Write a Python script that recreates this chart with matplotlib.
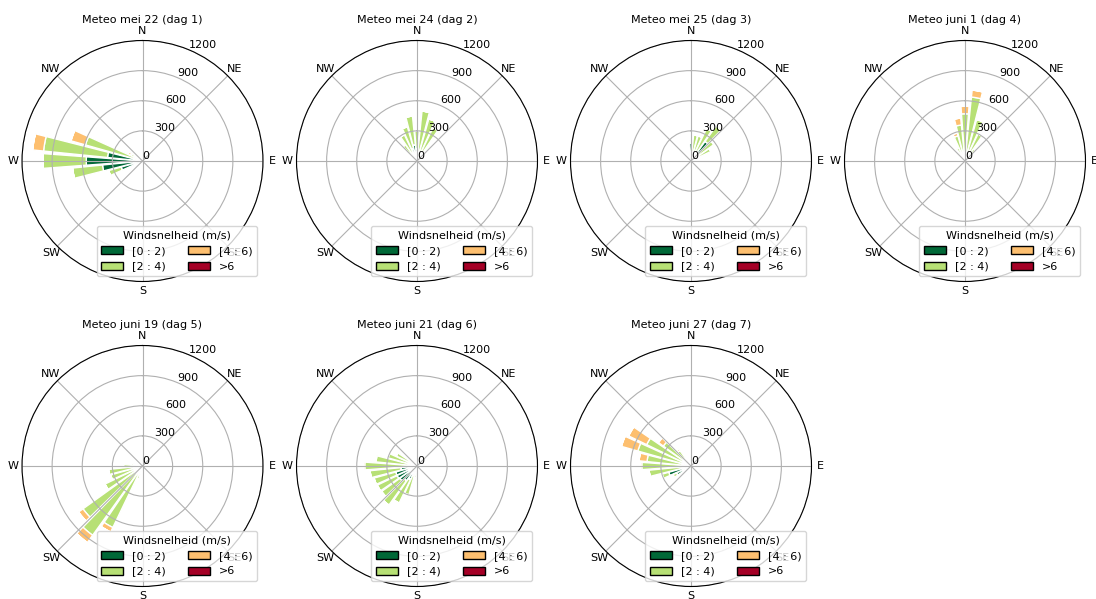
import numpy as np
import matplotlib
matplotlib.use("Agg")
import matplotlib.pyplot as plt
from matplotlib.patches import Patch

# ---- data -------------------------------------------------------------
titles = ["Meteo mei 22 (dag 1)", "Meteo mei 24 (dag 2)", "Meteo mei 25 (dag 3)",
          "Meteo juni 1 (dag 4)", "Meteo juni 19 (dag 5)", "Meteo juni 21 (dag 6)",
          "Meteo juni 27 (dag 7)"]
speed_labels = ["[0 : 2)", "[2 : 4)", "[4 : 6)", ">6"]
compass = ["N", "NE", "E", "SE", "S", "SW", "W", "NW"]
r_ticks = [0, 300, 600, 900, 1200]

# directions (degrees) and counts per speed class for each day
dag1_dir = [230, 240, 250, 260, 270, 280, 290, 300]
dag1_s02 = [20, 60, 220, 400, 560, 350, 80, 20]
dag1_s24 = [10, 20, 130, 300, 430, 640, 510, 110]
dag1_s46 = [0, 0, 0, 0, 0, 110, 150, 30]
dag1_s6 = [0, 0, 0, 0, 0, 0, 0, 0]

dag2_dir = [240, 250, 320, 330, 340, 350, 0, 10, 20, 30, 40]
dag2_s02 = [60, 40, 40, 80, 130, 160, 120, 90, 50, 20, 10]
dag2_s24 = [40, 20, 160, 210, 224, 290, 180, 410, 385, 350, 110]
dag2_s46 = [0, 0, 0, 0, 0, 0, 0, 0, 0, 0, 0]
dag2_s6 = [0, 0, 0, 0, 0, 0, 0, 0, 0, 0, 0]

dag3_dir = [350, 0, 10, 20, 30, 40, 50, 60, 70]
dag3_s02 = [40, 180, 90, 60, 80, 240, 100, 60, 30]
dag3_s24 = [20, 20, 170, 200, 280, 190, 180, 160, 60]
dag3_s46 = [0, 0, 0, 0, 0, 0, 0, 0, 0]
dag3_s6 = [0, 0, 0, 0, 0, 0, 0, 0, 0]

dag4_dir = [320, 330, 340, 350, 0, 10, 20, 30, 40]
dag4_s02 = [10, 20, 30, 30, 30, 40, 30, 20, 10]
dag4_s24 = [60, 130, 230, 330, 440, 600, 400, 280, 140]
dag4_s46 = [0, 10, 30, 70, 75, 70, 0, 0, 0]
dag4_s6 = [0, 0, 0, 0, 0, 0, 0, 0, 0]

dag5_dir = [190, 200, 210, 220, 230, 240, 250, 260, 270, 280, 290]
dag5_s02 = [10, 20, 30, 30, 30, 30, 30, 30, 20, 20, 10]
dag5_s24 = [40, 120, 650, 820, 700, 385, 300, 310, 170, 100, 40]
dag5_s46 = [0, 0, 50, 90, 55, 0, 0, 0, 0, 0, 0]
dag5_s6 = [0, 0, 0, 0, 0, 0, 0, 0, 0, 0, 0]

dag6_dir = [190, 200, 210, 220, 230, 240, 250, 260, 270, 280, 290, 300, 310]
dag6_s02 = [60, 100, 150, 180, 210, 220, 220, 160, 70, 20, 10, 10, 5]
dag6_s24 = [60, 200, 260, 300, 225, 220, 225, 310, 450, 390, 290, 220, 60]
dag6_s46 = [0, 0, 0, 0, 0, 0, 0, 0, 15, 10, 0, 0, 0]
dag6_s6 = [0, 0, 0, 0, 0, 0, 0, 0, 0, 0, 0, 0, 0]

dag7_dir = [230, 240, 250, 260, 270, 280, 290, 300, 310, 320]
dag7_s02 = [90, 160, 230, 60, 30, 20, 20, 20, 10, 10]
dag7_s24 = [20, 40, 70, 360, 460, 420, 530, 470, 330, 180]
dag7_s46 = [0, 0, 0, 0, 20, 80, 170, 200, 60, 20]
dag7_s6 = [0, 0, 0, 0, 0, 0, 0, 0, 0, 0]

days = [
    (dag1_dir, [dag1_s02, dag1_s24, dag1_s46, dag1_s6]),
    (dag2_dir, [dag2_s02, dag2_s24, dag2_s46, dag2_s6]),
    (dag3_dir, [dag3_s02, dag3_s24, dag3_s46, dag3_s6]),
    (dag4_dir, [dag4_s02, dag4_s24, dag4_s46, dag4_s6]),
    (dag5_dir, [dag5_s02, dag5_s24, dag5_s46, dag5_s6]),
    (dag6_dir, [dag6_s02, dag6_s24, dag6_s46, dag6_s6]),
    (dag7_dir, [dag7_s02, dag7_s24, dag7_s46, dag7_s6]),
]

# ---- figure -----------------------------------------------------------
W, H = 1096, 599
fig = plt.figure(figsize=(W / 100, H / 100), dpi=100)
colors = plt.get_cmap("RdYlGn_r")(np.linspace(0, 1, 4))

centers_x = [142.5, 417, 691, 965]
centers_y = [161, 466]
R = 120.5
sector = np.radians(10)
opening = 0.85

for i, (dirs, classes) in enumerate(days):
    cx = centers_x[i % 4]
    cy = centers_y[i // 4]
    ax = fig.add_axes([(cx - R) / W, (H - cy - R) / H, 2 * R / W, 2 * R / H],
                      projection="polar")
    ax.set_theta_zero_location("N")
    ax.set_theta_direction(-1)
    theta = np.radians(np.array(dirs, dtype=float))
    bottom = np.zeros(len(dirs))
    for k, vals in enumerate(classes):
        vals = np.array(vals, dtype=float)
        ax.bar(theta, vals, width=sector * opening, bottom=bottom,
               color=colors[k], edgecolor="white", linewidth=1.0)
        bottom = bottom + vals
    ax.set_ylim(0, 1200)
    ax.set_yticks(r_ticks)
    ax.set_yticklabels([str(t) for t in r_ticks], fontsize=8)
    ax.set_xticks(np.radians(np.arange(0, 360, 45)))
    ax.set_xticklabels(compass, fontsize=8)
    ax.tick_params(axis="x", pad=-4)
    ax.grid(True, color="#b0b0b0", linewidth=0.8)
    ax.set_title(titles[i], fontsize=8, y=1.072, pad=0)
    handles = [Patch(facecolor=c, edgecolor="black") for c in colors]
    ax.legend(handles, speed_labels, loc="lower right", ncol=2,
              title="Windsnelheid (m/s)", fontsize=8, title_fontsize=8,
              framealpha=0.8)

fig.savefig("out.png", dpi=100)
